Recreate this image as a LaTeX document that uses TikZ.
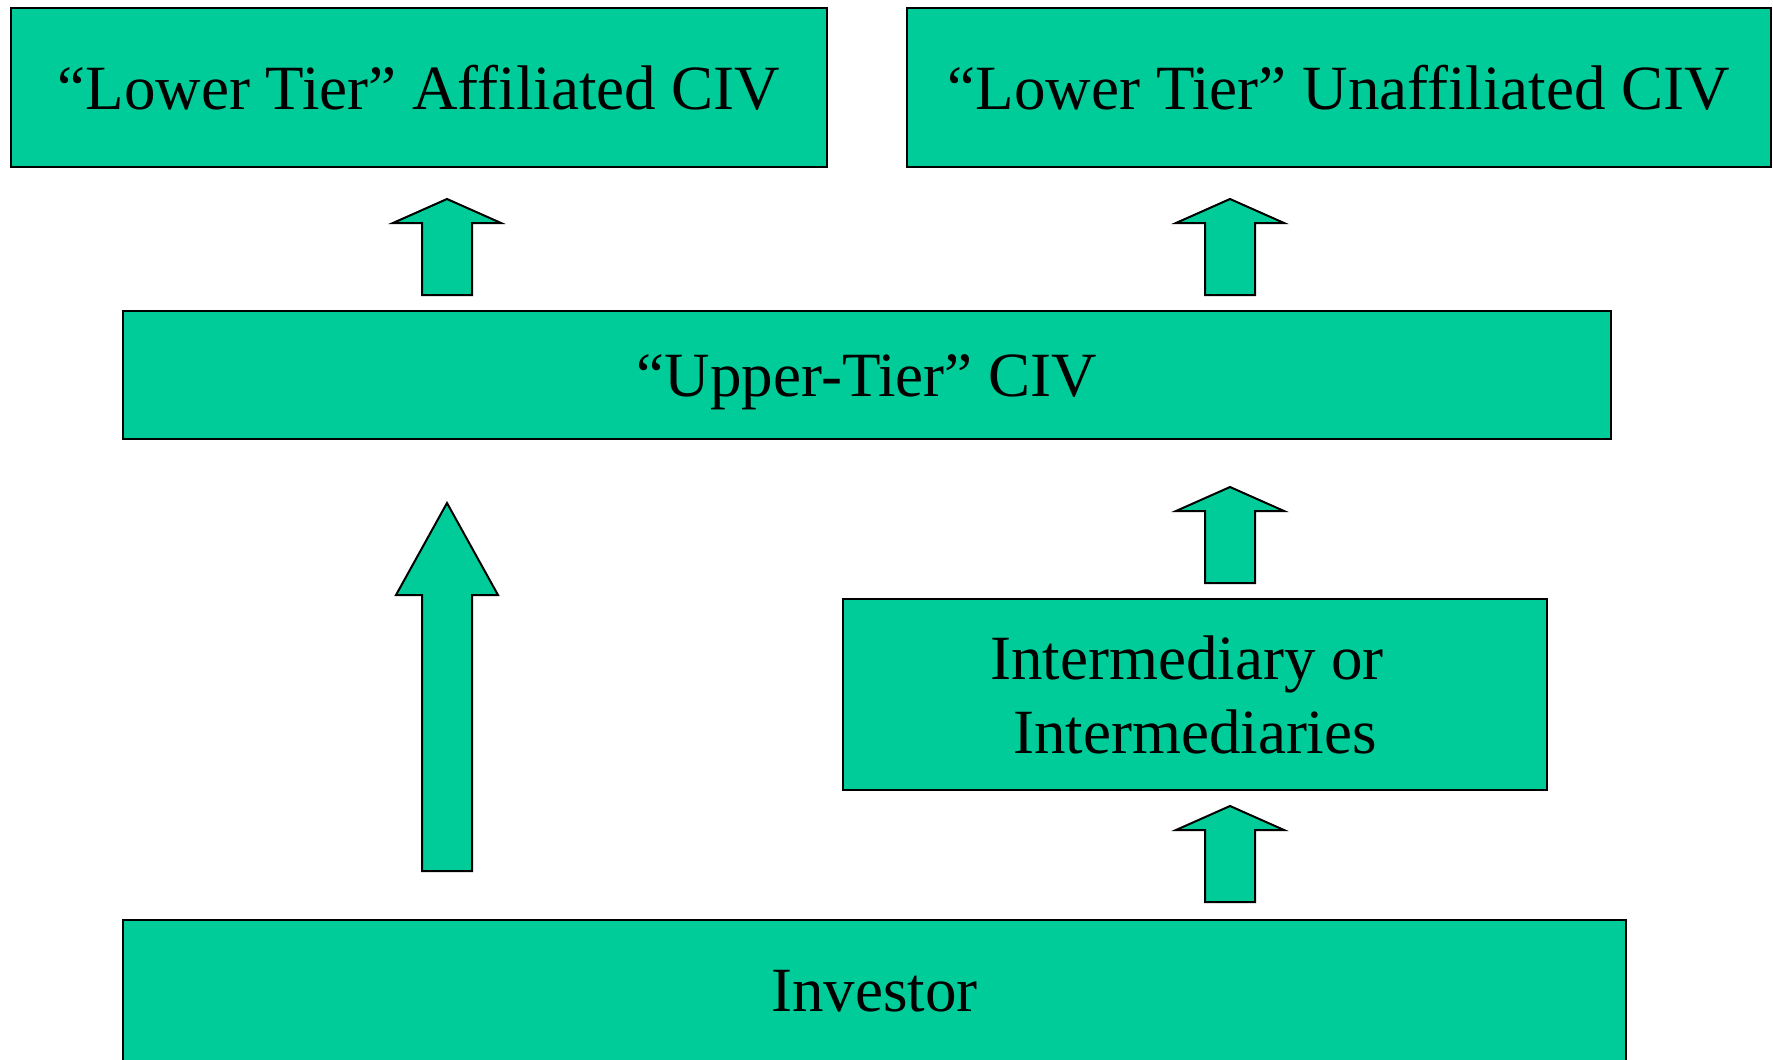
\documentclass[tikz,border=0pt]{standalone}
\usepackage{fontspec}
\setmainfont{Liberation Serif}
\definecolor{civgreen}{HTML}{00CC99}

\tikzset{
  civbox/.style={draw, fill=civgreen, line width=2pt, rectangle, inner sep=0pt,
    font=\fontsize{63}{74}\selectfont, align=center},
  blockarrow/.style={draw, fill=civgreen, line width=2pt, line join=miter}
}

% x, bottom, head base, tip, half shaft, half head
\newcommand{\blockup}[6]{%
  \draw[blockarrow] ({#1-#5},#2) -- ({#1-#5},#3) -- ({#1-#6},#3) -- (#1,#4)
    -- ({#1+#6},#3) -- ({#1+#5},#3) -- ({#1+#5},#2) -- cycle;}

\begin{document}
\begin{tikzpicture}[x=1pt,y=-1pt]
  \useasboundingbox (0,0) rectangle (1773,1060);
  \clip (0,0) rectangle (1773,1060);

  \node[civbox,minimum width=816pt,minimum height=159pt] (lowaff) at (419,87.5) {``Lower Tier'' Affiliated CIV};
  \node[civbox,minimum width=864pt,minimum height=159pt] (lowunaff) at (1339,87.5) {``Lower Tier'' Unaffiliated CIV};
  \node[civbox,minimum width=1488pt,minimum height=128pt,text height=42pt,text depth=0pt] (upper) at (867,375) {``Upper-Tier'' CIV};
  \node[civbox,minimum width=704pt,minimum height=191pt] (inter) at (1195,694.5) {Intermediary or~\mbox{}\\Intermediaries};
  \node[civbox,minimum width=1503pt,minimum height=142pt] (investor) at (874.5,991) {Investor};

  \blockup{447}{295}{223}{199}{25}{54}
  \blockup{1230}{295}{223}{199}{25}{54}
  \blockup{1230}{583}{511}{487}{25}{54}
  \blockup{1230}{902}{830}{806}{25}{54}
  \blockup{447}{871}{595}{503}{25}{51}
\end{tikzpicture}
\end{document}
